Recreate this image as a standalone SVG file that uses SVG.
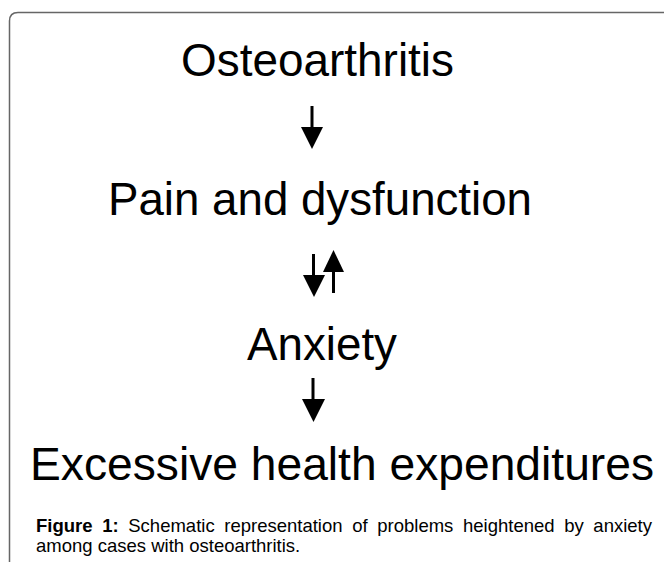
<svg xmlns="http://www.w3.org/2000/svg" width="664" height="562" viewBox="0 0 664 562">
<style>
.big{font-family:"Liberation Sans",Arial,sans-serif;font-size:46px;fill:#000}
.cap{font-family:"Liberation Sans",Arial,sans-serif;font-size:18.5px;fill:#000}
.shaft{stroke:#000;stroke-width:3;fill:none}
.head{fill:#000}
.frame{fill:none;stroke:#666;stroke-width:1.5}
</style>
<rect width="664" height="562" fill="#fff"/>
<path class="frame" d="M9.5,562 V21 Q9.5,12.5 18,12.5 H664"/>
<g id="osteoarthritis"><text class="big" x="181" y="76" textLength="273" lengthAdjust="spacingAndGlyphs">Osteoarthritis</text></g>
<g id="pain"><text class="big" x="108" y="215" textLength="424" lengthAdjust="spacingAndGlyphs">Pain and dysfunction</text></g>
<g id="anxiety"><text class="big" x="247" y="360" textLength="150" lengthAdjust="spacingAndGlyphs">Anxiety</text></g>
<g id="expenditures"><text class="big" x="30" y="480" textLength="624" lengthAdjust="spacingAndGlyphs">Excessive health expenditures</text></g>
<g id="connectors">
<line class="shaft" x1="312" y1="106" x2="312" y2="129"/>
<polygon class="head" points="301,127 323,127 312,149"/>
<line class="shaft" x1="313.5" y1="254" x2="313.5" y2="277"/>
<polygon class="head" points="303,275 325,275 314,297"/>
<line class="shaft" x1="333.5" y1="270" x2="333.5" y2="293"/>
<polygon class="head" points="323,272 344,272 333.5,250"/>
<line class="shaft" x1="313" y1="378" x2="313" y2="401"/>
<polygon class="head" points="302,399 325,399 313.5,422"/>
</g>
<g id="caption">
<text class="cap" x="36" y="532" word-spacing="4.5"><tspan font-weight="bold">Figure 1:</tspan> Schematic representation of problems heightened by anxiety</text>
<text class="cap" x="36" y="552">among cases with osteoarthritis.</text>
</g>
</svg>
